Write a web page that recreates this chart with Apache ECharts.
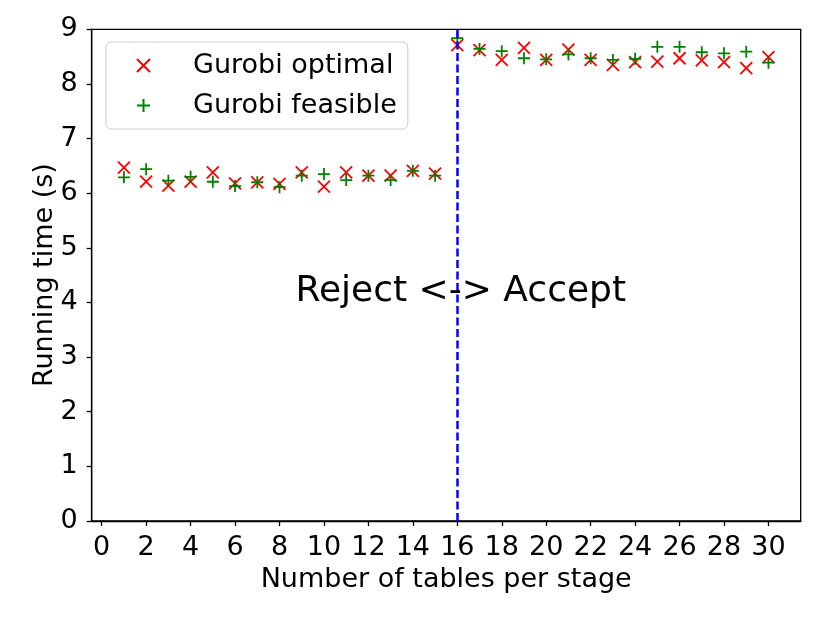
<!DOCTYPE html>
<html>
<head>
<meta charset="utf-8">
<script src="https://cdn.jsdelivr.net/npm/echarts@6/dist/echarts.min.js"></script>
<style>
html,body{margin:0;padding:0;background:#fff;}
#main{width:830px;height:623px;}
</style>
</head>
<body>
<div id="main"></div>
<script>
const tables = [1,2,3,4,5,6,7,8,9,10,11,12,13,14,15,16,17,18,19,20,21,22,23,24,25,26,27,28,29,30];
const optimal = [6.47,6.21,6.14,6.21,6.38,6.18,6.20,6.17,6.38,6.12,6.38,6.32,6.32,6.41,6.36,
                 8.71,8.62,8.44,8.66,8.44,8.63,8.44,8.35,8.40,8.41,8.47,8.43,8.40,8.29,8.49];
const feasible = [6.29,6.44,6.23,6.30,6.21,6.13,6.20,6.11,6.32,6.35,6.24,6.32,6.24,6.41,6.32,
                  8.84,8.64,8.60,8.47,8.45,8.54,8.47,8.44,8.46,8.68,8.68,8.58,8.56,8.59,8.39];
const xTicks = [0,2,4,6,8,10,12,14,16,18,20,22,24,26,28,30];
const yTicks = [0,1,2,3,4,5,6,7,8,9];
const boundaryX = 16;
const annotationText = 'Reject <-> Accept';
const annotationPos = [8.7, 4.2];
const seriesNames = ['Gurobi optimal', 'Gurobi feasible'];

const FONT = 'DejaVu Sans';
const FS = 27;
const X_PATH = 'path://M0,0L10,10M0,10L10,0';
const PLUS_PATH = 'path://M5,0L5,10M0,5L10,5';

const chart = echarts.init(document.getElementById('main'), null, {renderer: 'canvas'});
const zip = (a, b) => a.map((v, i) => [v, b[i]]);

const option = {
  backgroundColor: '#fff',
  animation: false,
  grid: {left: 91.7, right: 29.3, top: 29.3, bottom: 102, show: true, borderColor: '#000', borderWidth: 1.3, backgroundColor: 'transparent'},
  xAxis: {
    type: 'value', min: -0.45, max: 31.45,
    name: 'Number of tables per stage', nameLocation: 'middle', nameGap: 45,
    nameTextStyle: {fontFamily: FONT, fontSize: FS, color: '#000'},
    axisLine: {show: true, onZero: false, lineStyle: {color: '#000', width: 1.3}},
    axisTick: {show: true, length: 5, lineStyle: {color: '#000', width: 1.3}, customValues: xTicks},
    axisLabel: {fontFamily: FONT, fontSize: FS, color: '#000', margin: 13, customValues: xTicks},
    splitLine: {show: false}
  },
  yAxis: {
    type: 'value', min: 0, max: 9, interval: 1,
    name: 'Running time (s)', nameLocation: 'middle', nameGap: 33, nameRotate: 90, nameMoveOverlap: false,
    nameTextStyle: {fontFamily: FONT, fontSize: FS, color: '#000'},
    axisLine: {show: true, onZero: false, lineStyle: {color: '#000', width: 1.3}},
    axisTick: {show: true, length: 5, lineStyle: {color: '#000', width: 1.3}, customValues: yTicks},
    axisLabel: {fontFamily: FONT, fontSize: FS, color: '#000', margin: 14, customValues: yTicks},
    splitLine: {show: false}
  },
  legend: {
    orient: 'vertical', left: 106, top: 42,
    data: seriesNames,
    backgroundColor: 'rgba(255,255,255,0.8)', borderColor: '#cccccc', borderWidth: 1, borderRadius: 5,
    padding: [10, 11, 10, 30], itemWidth: 13, itemHeight: 13, itemGap: 13,
    textStyle: {fontFamily: FONT, fontSize: FS, color: '#000', padding: [0, 0, 0, 38], lineHeight: 26}
  },
  series: [
    {
      name: seriesNames[0], type: 'scatter', data: zip(tables, optimal),
      symbol: X_PATH, symbolSize: 12, symbolKeepAspect: true,
      itemStyle: {color: '#ff0000', borderColor: '#ff0000', borderWidth: 1.8, opacity: 1},
      emphasis: {disabled: true}, z: 3,
      markLine: {
        silent: true, symbol: ['none', 'none'], animation: false,
        label: {show: false},
        lineStyle: {color: '#0000ff', type: [8, 3.5], width: 2.5, opacity: 1},
        data: [{xAxis: boundaryX}]
      }
    },
    {
      name: seriesNames[1], type: 'scatter', data: zip(tables, feasible),
      symbol: PLUS_PATH, symbolSize: 12, symbolKeepAspect: true,
      itemStyle: {color: '#008000', borderColor: '#008000', borderWidth: 1.8, opacity: 1},
      emphasis: {disabled: true}, z: 4
    },
    {
      name: 'annotation', type: 'scatter', data: [annotationPos],
      symbolSize: 1, itemStyle: {color: 'rgba(0,0,0,0)', opacity: 1}, silent: true,
      label: {show: true, position: 'right', distance: 0, formatter: annotationText,
              fontFamily: FONT, fontSize: 36, color: '#000', opacity: 1},
      z: 5
    }
  ]
};
chart.setOption(option);
</script>
</body>
</html>
